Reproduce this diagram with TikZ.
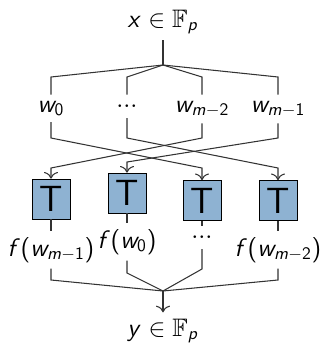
\documentclass[tikz,border=0pt]{standalone}
\usepackage{amssymb}
\usetikzlibrary{arrows.meta, positioning}
\definecolor{tblue}{HTML}{8EB2D2}
% sans serif math, slanted letters
\DeclareMathVersion{sans}
\SetSymbolFont{operators}{sans}{OT1}{cmss}{m}{n}
\SetSymbolFont{letters}{sans}{OT1}{cmss}{m}{sl}
\SetSymbolFont{symbols}{sans}{OMS}{cmsy}{m}{n}
\SetSymbolFont{largesymbols}{sans}{OMX}{cmex}{m}{n}
\newcommand{\tdots}{{\cdot}{\cdot}{\cdot}}

\begin{document}
\begin{tikzpicture}[
    x=0.02cm, y=-0.02cm,
    lbl/.style={font=\Large\mathversion{sans}, anchor=base},
    tbox/.style={draw, fill=tblue, minimum width=0.76cm, minimum height=0.8cm,
                 inner sep=0pt, font=\huge\sffamily},
    wire/.style={draw=black!80, line width=0.6pt},
    arrow/.style={wire, -{To[scale=1.3]}}
]
\useasboundingbox (0,0) rectangle (321,349);

% input and its fan-out
\node[lbl] (x) at (163,27) {$x\in\mathbb{F}_p$};
\coordinate (split) at (163,65);
\node[lbl] (w0)  at (51,112)  {$w_0$};
\node[lbl] (wd)  at (127,112) {$\tdots$};
\node[lbl] (wm2) at (202,112) {$w_{m-2}$};
\node[lbl] (wm1) at (278,112) {$w_{m-1}$};

\draw[wire] (x) -- (split);
\foreach \n/\cx in {w0/51, wd/127, wm2/202, wm1/278}
  \draw[wire] (split) -- (\cx,77) -- (\n.north);

% table look-ups
\node[tbox] (t1) at (51,199)   {T};
\node[tbox] (t2) at (127,193)  {T};
\node[tbox] (t3) at (202,200.5) {T};
\node[tbox] (t4) at (278,200.5) {T};

% permutation
\foreach \s/\t/\sx/\tx/\ty in {w0/t3/51/202/168, wd/t4/127/278/168,
                               wm2/t1/202/51/168, wm1/t2/278/127/162}
  \draw[arrow] (\s.south) -- (\sx,138) -- (\tx,\ty) -- (\t.north);

% outputs and fan-in
\node[lbl] (f1) at (51,256)  {$f(w_{m-1})$};
\node[lbl] (f2) at (127,248) {$f(w_0)$};
\node[lbl] (f3) at (202,243) {$\tdots$};
\node[lbl] (f4) at (278,256) {$f(w_{m-2})$};
\coordinate (merge) at (163,291);
\node[lbl] (y) at (163,336) {$y\in\mathbb{F}_p$};

\foreach \t/\f in {t1/f1, t2/f2, t3/f3, t4/f4}
  \draw[wire] (\t) -- (\f);
\foreach \f/\cx/\cy in {f1/51/280, f2/127/273, f3/202/269, f4/278/280}
  \draw[wire] (\f.south) -- (\cx,\cy) -- (merge);
\draw[arrow] (merge) -- (y);
\end{tikzpicture}
\end{document}
